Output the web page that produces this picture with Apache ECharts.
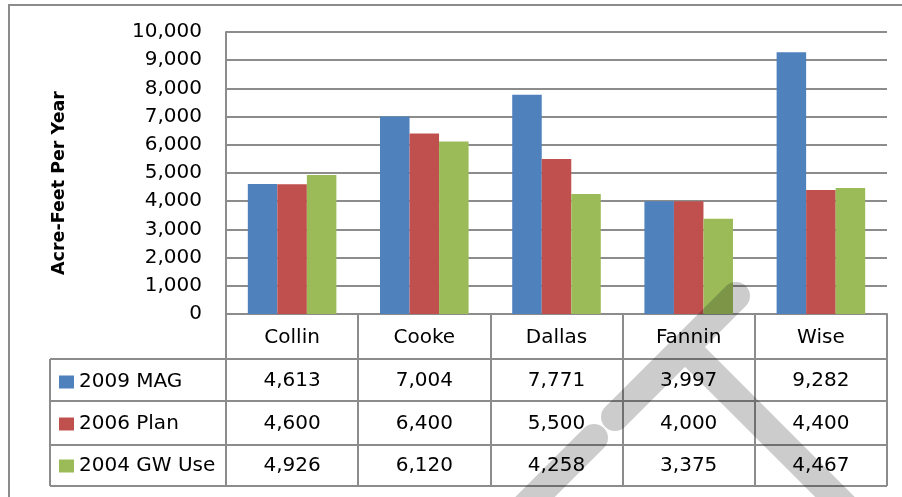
<!DOCTYPE html>
<html lang="en">
<head>
    <meta charset="UTF-8">
    <title>Acre-Feet Per Year by County</title>
    <script src="https://cdn.jsdelivr.net/npm/echarts@6/dist/echarts.min.js"></script>
    <style>
        html, body {
            margin: 0;
            padding: 0;
            background: #ffffff;
        }
        #chart {
            width: 902px;
            height: 497px;
        }
    </style>
</head>
<body>
<div id="chart"></div>
<script>
    const categories = ['Collin', 'Cooke', 'Dallas', 'Fannin', 'Wise'];
    const seriesNames = ['2009 MAG', '2006 Plan', '2004 GW Use'];
    const mag2009 = [4613, 7004, 7771, 3997, 9282];
    const plan2006 = [4600, 6400, 5500, 4000, 4400];
    const gwUse2004 = [4926, 6120, 4258, 3375, 4467];
    const seriesColors = ['#4F81BD', '#C0504D', '#9BBB59'];
    const yMin = 0, yMax = 10000, yStep = 1000;

    const font = 'DejaVu Sans';
    const lineGray = '#8c8c8c';
    const fmt = v => v.toLocaleString('en-US');

    const chart = echarts.init(document.getElementById('chart'));

    // table row lines (layout only)
    const tableLeft = 50, plotLeft = 226, plotRight = 887;
    const rowLines = [359, 401, 445, 486];
    const tableLines = rowLines.map(y => ({
        type: 'line',
        shape: { x1: tableLeft, y1: y, x2: plotRight, y2: y },
        style: { stroke: lineGray, lineWidth: 2 },
        z: 5
    }));
    tableLines.push({
        type: 'line',
        shape: { x1: tableLeft, y1: 359, x2: tableLeft, y2: 486 },
        style: { stroke: lineGray, lineWidth: 2 },
        z: 5
    });

    const allSeries = [mag2009, plan2006, gwUse2004];

    // gray stamp strokes lying over the picture
    const stampStyle = {
        stroke: 'rgba(0,0,0,0.2)',
        lineWidth: 28,
        lineCap: 'round',
        lineJoin: 'round',
        fill: null
    };

    const option = {
        animation: false,
        textStyle: { fontFamily: font },
        grid: {
            left: plotLeft,
            right: 902 - plotRight,
            top: 32,
            bottom: 183,
            outerBoundsMode: 'none'
        },
        legend: {
            orient: 'vertical',
            left: 59,
            top: 372,
            padding: 0,
            icon: 'rect',
            itemWidth: 15,
            itemHeight: 13,
            itemGap: 22,
            selectedMode: false,
            data: seriesNames,
            textStyle: { fontFamily: font, fontSize: 20, color: '#000', lineHeight: 20 }
        },
        xAxis: {
            type: 'category',
            data: categories,
            axisLine: { show: true, lineStyle: { color: lineGray, width: 2 } },
            axisTick: {
                show: true,
                interval: 0,
                length: 172,
                lineStyle: { color: lineGray, width: 2 }
            },
            axisLabel: {
                interval: 0,
                margin: 2,
                color: '#000',
                formatter: (value, idx) => {
                    const rows = allSeries.map(s => `{v|${fmt(s[idx])}}`);
                    return `{h|${value}}\n` + rows.join('\n');
                },
                rich: {
                    h: { fontFamily: font, fontSize: 20, lineHeight: 44, color: '#000' },
                    v: { fontFamily: font, fontSize: 20, lineHeight: 42.5, color: '#000' }
                }
            }
        },
        yAxis: {
            type: 'value',
            min: yMin,
            max: yMax,
            interval: yStep,
            axisLine: { show: true, lineStyle: { color: lineGray, width: 2 } },
            axisTick: { show: false },
            splitLine: { lineStyle: { color: lineGray, width: 2 } },
            axisLabel: {
                margin: 24,
                fontSize: 20,
                color: '#000',
                formatter: v => fmt(v)
            }
        },
        series: allSeries.map((values, i) => ({
            name: seriesNames[i],
            type: 'bar',
            data: values,
            barGap: '0%',
            barCategoryGap: '33%',
            itemStyle: { color: seriesColors[i] }
        })),
        graphic: [
            // outer frame (top and left edges visible)
            {
                type: 'polyline',
                shape: { points: [[9, 497], [9, 5], [902, 5]] },
                style: { stroke: lineGray, lineWidth: 2, fill: null },
                z: 5
            },
            {
                type: 'text',
                x: 59,
                y: 183,
                rotation: Math.PI / 2,
                style: {
                    text: 'Acre-Feet Per Year',
                    fontFamily: font,
                    fontSize: 17.5,
                    fontWeight: 'bold',
                    fill: '#000',
                    align: 'center',
                    verticalAlign: 'middle'
                },
                z: 5
            },
            ...tableLines,
            {
                type: 'polyline',
                shape: { points: [[615, 417], [736, 296], [685, 347], [920, 582]] },
                style: stampStyle,
                z: 100
            },
            {
                type: 'line',
                shape: { x1: 594, y1: 438, x2: 500, y2: 532 },
                style: stampStyle,
                z: 100
            }
        ]
    };

    chart.setOption(option);
</script>
</body>
</html>
